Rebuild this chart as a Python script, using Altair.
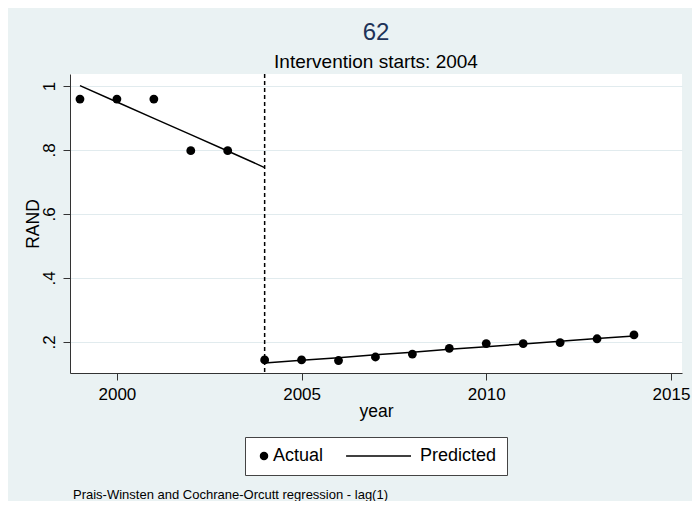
import altair as alt
import pandas as pd

# ---- data ----
years = list(range(1999, 2015))
actual = [0.959, 0.959, 0.959, 0.798, 0.798,
          0.144, 0.144, 0.142, 0.153, 0.162, 0.180, 0.195, 0.195, 0.198, 0.210, 0.222]

pred_years_pre = [1999, 2000, 2001, 2002, 2003, 2004]
pred_pre = [1.001, 0.950, 0.899, 0.848, 0.797, 0.745]
pred_years_post = [2004, 2005, 2006, 2007, 2008, 2009, 2010, 2011, 2012, 2013, 2014]
pred_post = [0.134, 0.143, 0.151, 0.160, 0.168, 0.177, 0.185, 0.194, 0.202, 0.211, 0.219]

intervention_year = [2004]
x_ticks = [2000, 2005, 2010, 2015]
y_ticks = [0.2, 0.4, 0.6, 0.8, 1.0]
legend_items = ["Actual", "Predicted"]

FONT = "Liberation Sans"
BG = "#EAF2F3"

df_actual = pd.DataFrame({"year": years, "RAND": actual, "series": "Actual"})
df_pred = pd.DataFrame({
    "year": pred_years_pre + pred_years_post,
    "RAND": pred_pre + pred_post,
    "segment": ["pre"] * len(pred_years_pre) + ["post"] * len(pred_years_post),
})
df_rule = pd.DataFrame({"year": intervention_year})
df_note = pd.DataFrame({"txt": ["Prais-Winsten and Cochrane-Orcutt regression - lag(1)"]})

xscale = alt.Scale(domain=[1998.73, 2015.3], nice=False, zero=False)
yscale = alt.Scale(domain=[0.103, 1.0375], nice=False, zero=False)

xaxis = alt.Axis(values=x_ticks, format="d", title="year", grid=False,
                 tickSize=7, labelPadding=6, titlePadding=0,
                 labelFontSize=17, titleFontSize=17.5, labelFlush=False)
yaxis = alt.Axis(values=y_ticks, title="RAND", grid=True,
                 labelExpr="datum.value >= 1 ? '1' : substring(format(datum.value, '.1f'), 1)",
                 tickSize=7, labelAngle=270, labelAlign="center", labelBaseline="alphabetic",
                 labelPadding=9, titlePadding=-2,
                 labelFontSize=17, titleFontSize=17.5)

line_symbol = "M-15.3,-0.18H0V0.18H-15.3Z"

points = alt.Chart(df_actual).mark_point(filled=True, size=78, opacity=1, color="black").encode(
    x=alt.X("year:Q", scale=xscale, axis=xaxis),
    y=alt.Y("RAND:Q", scale=yscale, axis=yaxis),
    shape=alt.Shape(
        "series:N",
        scale=alt.Scale(domain=legend_items, range=["circle", line_symbol]),
        legend=alt.Legend(
            title=None, orient="none", legendX=175, legendY=363, direction="horizontal",
            fillColor="white", strokeColor="#444444", padding=10,
            labelFontSize=18, labelFont=FONT, labelColor="black", labelOffset=0,
            columnPadding=22, symbolSize=72, symbolFillColor="black",
            symbolStrokeWidth=0, symbolOpacity=1,
        ),
    ),
)

pred = alt.Chart(df_pred).mark_line(color="black", strokeWidth=1.5).encode(
    x=alt.X("year:Q", scale=xscale),
    y=alt.Y("RAND:Q", scale=yscale),
    detail="segment:N",
)

rule = alt.Chart(df_rule).mark_rule(color="black", strokeWidth=1.5, strokeDash=[4, 3]).encode(
    x=alt.X("year:Q", scale=xscale),
)

note = alt.Chart(df_note).mark_text(align="left", baseline="middle", fontSize=13,
                                    font=FONT, color="black").encode(
    x=alt.value(3), y=alt.value(421), text="txt:N"
)

chart = alt.layer(rule, pred, points, note).properties(
    width=612, height=299,
    title=alt.Title("62", subtitle="Intervention starts: 2004",
                    fontSize=24, font=FONT, fontWeight="normal", color="#1E3358",
                    subtitleFontSize=19, subtitleFont=FONT, subtitleColor="black",
                    subtitlePadding=8, offset=1, anchor="middle"),
    autosize=alt.AutoSizeParams(type="none"),
    padding={"left": 62, "top": 66, "right": 10, "bottom": 128},
    background=BG,
).configure_view(
    fill="white", stroke=None,
).configure_axis(
    labelFont=FONT, titleFont=FONT, labelColor="black", titleColor="black",
    titleFontWeight="normal", domainColor="#333333", tickColor="#333333",
    gridColor="#E1EBEE", gridWidth=1, domainWidth=1, tickWidth=1,
)

chart.save("out.html", embed_options={"renderer": "svg", "actions": False})
